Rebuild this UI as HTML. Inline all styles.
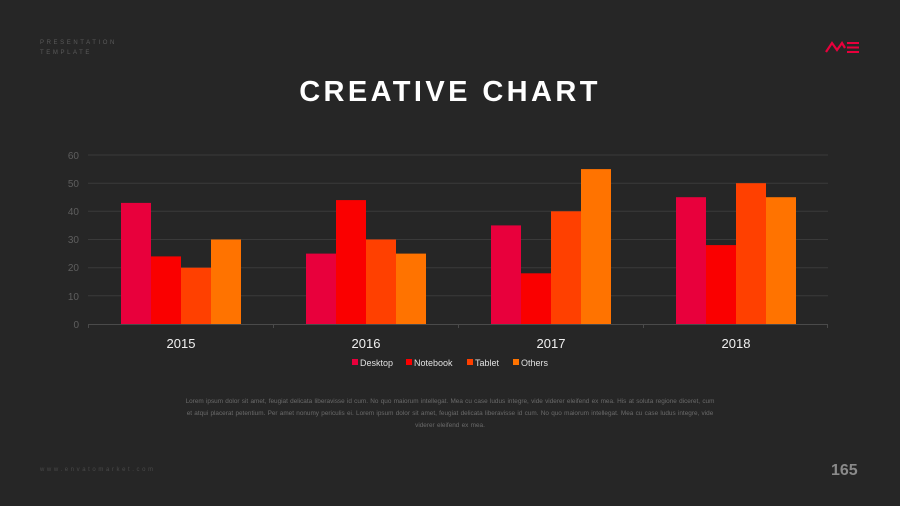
<!DOCTYPE html>
<html><head><meta charset="utf-8"><style>
body{margin:0;background:#262626;}
.p{position:relative;width:900px;height:506px;background:#262626;overflow:hidden;font-family:"Liberation Sans",sans-serif;}
.tl{position:absolute;left:40px;top:38px;font-size:6px;letter-spacing:2.6px;color:#5a5a5a;line-height:10px;}
.title{position:absolute;left:0;width:900px;top:76px;text-align:center;color:#fff;font-weight:bold;font-size:29px;letter-spacing:3.4px;}
.lorem{position:absolute;left:182px;width:536px;top:396px;text-align:center;font-size:6.4px;line-height:12px;color:#6a6a6a;word-spacing:0.5px;}
.www{position:absolute;left:40px;top:467px;font-size:6px;letter-spacing:2.6px;color:#4a4a4a;}
.num{position:absolute;left:831px;top:462px;font-size:16px;font-weight:bold;color:#8a8a8a;}
</style></head><body><div class="p">
<div class="tl">PRESENTATION<br>TEMPLATE</div>
<svg style="position:absolute;left:825px;top:40px" width="36" height="14" viewBox="0 0 36 14">
<path d="M1 12 L7 3 L12 10 L17 3 L20 8" fill="none" stroke="#e8003c" stroke-width="2.2"/>
<path d="M22 3 H34 M22 7.5 H34 M22 12 H34" stroke="#e8003c" stroke-width="2"/>
</svg>
<div class="title">CREATIVE CHART</div>
<svg style="position:absolute;left:0;top:0" width="900" height="506" font-family="Liberation Sans, sans-serif">
<g stroke="#3a3a3a" stroke-width="1">
<line x1="88" x2="828" y1="155" y2="155"/><line x1="88" x2="828" y1="183.2" y2="183.2"/>
<line x1="88" x2="828" y1="211.3" y2="211.3"/><line x1="88" x2="828" y1="239.5" y2="239.5"/>
<line x1="88" x2="828" y1="267.7" y2="267.7"/><line x1="88" x2="828" y1="295.8" y2="295.8"/>
</g>
<g fill="#5e5e5e" font-size="10" text-anchor="end">
<text x="79" y="159">60</text><text x="79" y="187">50</text><text x="79" y="215">40</text>
<text x="79" y="243">30</text><text x="79" y="271">20</text><text x="79" y="300">10</text><text x="79" y="328">0</text>
</g>
<g>
<rect x="121" y="202.9" width="30" height="121.1" fill="#e8003c"/>
<rect x="151" y="256.4" width="30" height="67.6" fill="#fa0000"/>
<rect x="181" y="267.7" width="30" height="56.3" fill="#ff4000"/>
<rect x="211" y="239.5" width="30" height="84.5" fill="#ff7300"/>
<rect x="306" y="253.6" width="30" height="70.4" fill="#e8003c"/>
<rect x="336" y="200.1" width="30" height="123.9" fill="#fa0000"/>
<rect x="366" y="239.5" width="30" height="84.5" fill="#ff4000"/>
<rect x="396" y="253.6" width="30" height="70.4" fill="#ff7300"/>
<rect x="491" y="225.4" width="30" height="98.6" fill="#e8003c"/>
<rect x="521" y="273.3" width="30" height="50.7" fill="#fa0000"/>
<rect x="551" y="211.3" width="30" height="112.7" fill="#ff4000"/>
<rect x="581" y="169.1" width="30" height="154.9" fill="#ff7300"/>
<rect x="676" y="197.2" width="30" height="126.8" fill="#e8003c"/>
<rect x="706" y="245.1" width="30" height="78.9" fill="#fa0000"/>
<rect x="736" y="183.2" width="30" height="140.8" fill="#ff4000"/>
<rect x="766" y="197.2" width="30" height="126.8" fill="#ff7300"/>
</g>
<g stroke="#4a4a4a" stroke-width="1">
<line x1="88" x2="828" y1="324.5" y2="324.5"/>
<line x1="88.5" x2="88.5" y1="324" y2="328"/><line x1="273.5" x2="273.5" y1="324" y2="328"/>
<line x1="458.5" x2="458.5" y1="324" y2="328"/><line x1="643.5" x2="643.5" y1="324" y2="328"/>
<line x1="827.5" x2="827.5" y1="324" y2="328"/>
</g>
<g fill="#f0f0f0" font-size="13" text-anchor="middle">
<text x="181" y="348">2015</text><text x="366" y="348">2016</text>
<text x="551" y="348">2017</text><text x="736" y="348">2018</text>
</g>
<g font-size="9" fill="#e0e0e0">
<rect x="352" y="359" width="6" height="6" fill="#e8003c"/><text x="360" y="366">Desktop</text>
<rect x="406" y="359" width="6" height="6" fill="#fa0000"/><text x="414" y="366">Notebook</text>
<rect x="467" y="359" width="6" height="6" fill="#ff4000"/><text x="475" y="366">Tablet</text>
<rect x="513" y="359" width="6" height="6" fill="#ff7300"/><text x="521" y="366">Others</text>
</g>
</svg>
<div class="lorem">Lorem ipsum dolor sit amet, feugiat delicata liberavisse id cum. No quo maiorum intellegat. Mea cu case ludus integre, vide viderer eleifend ex mea. His at soluta regione diceret, cum et atqui placerat petentium. Per amet nonumy periculis ei. Lorem ipsum dolor sit amet, feugiat delicata liberavisse id cum. No quo maiorum intellegat. Mea cu case ludus integre, vide viderer eleifend ex mea.</div>
<div class="www">www.envatomarket.com</div>
<div class="num">165</div>
</div></body></html>
